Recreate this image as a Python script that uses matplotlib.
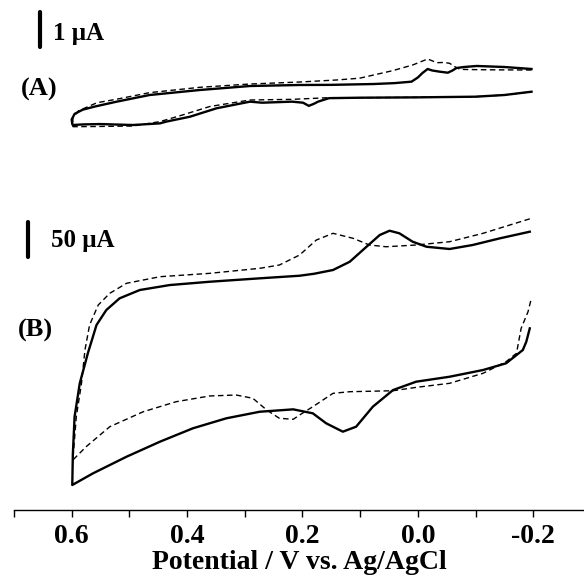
"""
Cyclic voltammograms (A) and (B), solid vs dashed scans.
"""

import numpy as np
import matplotlib
matplotlib.use('Agg')
import matplotlib.pyplot as plt
from matplotlib.ticker import FixedLocator, FormatStrFormatter

plt.rcParams['font.family'] = ['Liberation Serif', 'DejaVu Serif']
plt.rcParams['font.weight'] = 'bold'
plt.rcParams['axes.unicode_minus'] = False

# ---- data: potential (V vs Ag/AgCl), current (uA, arbitrary zero) ----
# (A) solid: upper branch -0.2 -> 0.6, then lower branch 0.6 -> -0.2
a_solid_E = [-0.197, -0.150, -0.102, -0.080, -0.067, -0.060, -0.052, -0.038,
             -0.025, -0.017, -0.008, 0.000, 0.011, 0.040, 0.076, 0.150,
             0.206, 0.291, 0.378, 0.465, 0.522, 0.560, 0.581, 0.595, 0.600, 0.599,
             0.598, 0.580, 0.551, 0.494, 0.447, 0.436, 0.395, 0.349, 0.291,
             0.270, 0.218, 0.199, 0.189, 0.180, 0.173, 0.154, 0.100, 0.000,
             -0.100, -0.150, -0.197]
a_solid_I = [0.743, 0.80, 0.829, 0.80, 0.771, 0.70, 0.637, 0.666,
             0.70, 0.743, 0.629, 0.50, 0.381, 0.34, 0.314, 0.29,
             0.286, 0.257, 0.143, 0.0, -0.19, -0.33, -0.42, -0.54, -0.70, -0.83,
             -0.857, -0.84, -0.83, -0.857, -0.81, -0.76, -0.62, -0.38, -0.19,
             -0.22, -0.19, -0.22, -0.31, -0.25, -0.19, -0.09, -0.077, -0.067,
             -0.048, 0.0, 0.094]

# (A) dashed
a_dash_E = [-0.197, -0.120, -0.080, -0.072, -0.064, -0.055, -0.045, -0.033,
            -0.017, 0.009, 0.044, 0.101, 0.141, 0.206, 0.291, 0.378, 0.465,
            0.522, 0.556, 0.588, 0.598, 0.598,
            0.597, 0.560, 0.494, 0.447, 0.408, 0.361, 0.291, 0.218, 0.154,
            0.100, 0.000, -0.100, -0.150, -0.197]
a_dash_I = [0.714, 0.72, 0.73, 0.743, 0.809, 0.906, 0.93, 0.923,
            1.029, 0.857, 0.694, 0.48, 0.429, 0.37, 0.314, 0.22, 0.067,
            -0.12, -0.22, -0.45, -0.65, -0.90,
            -0.905, -0.90, -0.886, -0.76, -0.571, -0.33, -0.143, -0.124, -0.076,
            -0.077, -0.067, -0.048, 0.0, 0.094]

# (B) solid
b_solid_E = [-0.194, -0.142, -0.095, -0.055, -0.015, 0.009, 0.032, 0.049,
             0.066, 0.089, 0.118, 0.147, 0.180, 0.205, 0.274, 0.361, 0.430, 0.482,
             0.517, 0.540, 0.557, 0.572, 0.586, 0.595, 0.598, 0.599,
             0.563, 0.505, 0.447, 0.390, 0.332, 0.274, 0.216, 0.182, 0.159,
             0.130, 0.107, 0.078, 0.043, 0.003, -0.055, -0.113, -0.153, -0.182,
             -0.188, -0.194]
b_solid_I = [197.6, 188.1, 178.6, 172.9, 176.1, 183.3, 195.3, 199.0,
             192.9, 176.1, 154.7, 142.9, 137.5, 134.7, 131.0, 126.1, 121.4, 114.3,
             102.4, 85.7, 64.3, 23.9, -19.0, -66.7, -120.0, -164.3,
             -147.6, -123.9, -102.4, -83.3, -69.0, -59.6, -56.2, -61.9, -76.1,
             -88.1, -81.0, -52.4, -28.6, -16.7, -9.6, 0.0, 9.6, 28.6,
             40.5, 59.5]

# (B) dashed
b_dash_E = [-0.194, -0.113, -0.055, 0.003, 0.055, 0.084, 0.112, 0.147,
            0.176, 0.205, 0.240, 0.274, 0.361, 0.447, 0.505, 0.534, 0.554,
            0.569, 0.577, 0.583, 0.592, 0.598,
            0.575, 0.534, 0.476, 0.419, 0.361, 0.315, 0.286, 0.262, 0.240,
            0.216, 0.205, 0.182, 0.147, 0.118, 0.043, 0.003, -0.055, -0.113,
            -0.153, -0.171, -0.179, -0.191, -0.196]
b_dash_I = [216.0, 195.3, 183.3, 178.6, 176.1, 178.6, 188.1, 195.3,
            185.7, 164.3, 150.0, 145.3, 138.1, 133.3, 123.9, 109.6, 92.9,
            64.3, 28.6, -19.0, -66.7, -128.6,
            -109.6, -81.0, -59.6, -45.3, -37.1, -35.7, -40.4, -57.1, -69.0,
            -70.4, -64.3, -52.4, -33.3, -31.0, -29.6, -24.8, -19.0, -4.7,
            11.9, 23.9, 59.5, 83.3, 100.0]

scale_A = 1    # uA
scale_B = 50   # uA
major_ticks = [0.6, 0.4, 0.2, 0.0, -0.2]
minor_ticks = [0.7, 0.5, 0.3, 0.1, -0.1]

# ---- figure ----
W, H = 584, 577
fig = plt.figure(figsize=(W / 100, H / 100), dpi=100)

axB = fig.add_axes([14 / W, 67 / H, 570 / W, 310 / H])
axA = fig.add_axes([14 / W, 427 / H, 570 / W, 150 / H])

for ax in (axA, axB):
    ax.set_xlim(0.70, -0.288)
    ax.patch.set_visible(False)
    for s in ('top', 'right', 'left'):
        ax.spines[s].set_visible(False)
    ax.set_yticks([])

axA.spines['bottom'].set_visible(False)
axA.set_xticks([])
axA.set_ylim(-1.571, 2.714)
axB.set_ylim(-200, 242.9)

solid_kw = dict(color='black', lw=1.7, solid_joinstyle='round')
dash_kw = dict(color='black', lw=1.0, ls=(0, (4, 2.5)))

axA.plot(a_solid_E, a_solid_I, **solid_kw)
axA.plot(a_dash_E, a_dash_I, **dash_kw)
axB.plot(b_solid_E, b_solid_I, **solid_kw)
axB.plot(b_dash_E, b_dash_I, **dash_kw)

# scale bars
axA.plot([0.655, 0.655], [1.38, 1.38 + scale_A], color='black', lw=3, solid_capstyle='round')
axA.text(0.632, 1.76, '1 μA', fontsize=18, fontweight='bold', ha='left', va='center')
axA.text(0.656, 0.15, '(A)', fontsize=19, fontweight='bold', ha='center', va='center')

axB.plot([0.675, 0.675], [161.4, 161.4 + scale_B], color='black', lw=3, solid_capstyle='round')
axB.text(0.635, 185.7, '50 μA', fontsize=18, fontweight='bold', ha='left', va='center')
axB.text(0.662, 57, '(B)', fontsize=19, fontweight='bold', ha='center', va='center')

# x axis
axB.spines['bottom'].set_linewidth(1.0)
axB.xaxis.set_major_locator(FixedLocator(major_ticks))
axB.xaxis.set_minor_locator(FixedLocator(minor_ticks))
axB.xaxis.set_major_formatter(FormatStrFormatter('%.1f'))
axB.tick_params(axis='x', which='both', direction='out', length=5, width=1.0,
                labelsize=20, pad=5)
for lab in axB.get_xticklabels():
    lab.set_fontweight('bold')
axB.set_xlabel('Potential / V vs. Ag/AgCl', fontsize=20, fontweight='bold', labelpad=1)

fig.savefig('out.png', dpi=100)
